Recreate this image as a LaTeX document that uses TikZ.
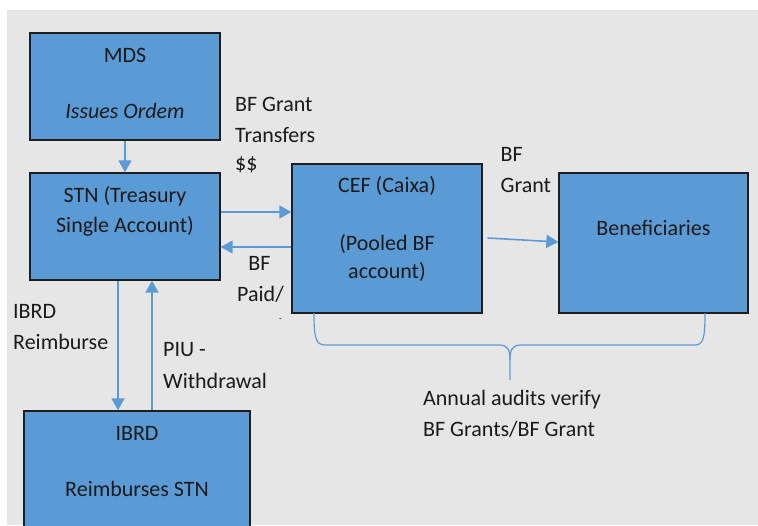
\documentclass[tikz,border=0pt]{standalone}
\usepackage{fontspec}
\setmainfont{Carlito}
\usetikzlibrary{arrows.meta}
\definecolor{bg}{HTML}{E6E6E6}
\definecolor{boxblue}{HTML}{5B9BD5}
\definecolor{arrowblue}{HTML}{5B9BD5}
\definecolor{edge}{HTML}{1E1E1E}
\definecolor{ink}{HTML}{1A1A1A}
\tikzset{
  box/.style={draw=edge, line width=1.3pt, fill=boxblue, inner sep=0pt},
  txt/.style={inner sep=0pt, text=ink, font=\fontsize{22}{29}\selectfont},
  flow/.style={draw=arrowblue, line width=1.6pt, -{Triangle[length=12pt,width=13pt]}},
  bracepath/.style={draw=arrowblue, line width=1.2pt},
}
\begin{document}
\begin{tikzpicture}[x=1pt,y=-1pt]
\clip (0,0) rectangle (758,525);
\fill[white] (0,0) rectangle (758,525);
\fill[bg] (7,10) rectangle (758,525);

% boxes
\node[box, minimum width=190pt, minimum height=107pt] (mds) at (125,86.5) {};
\node[box, minimum width=190pt, minimum height=107pt] (stn) at (125,226.5) {};
\node[box, minimum width=190pt, minimum height=149pt] (cef) at (387,238.5) {};
\node[box, minimum width=189pt, minimum height=140pt] (ben) at (653.5,243) {};
\node[box, minimum width=226pt, minimum height=129pt] (ibrd) at (137,475.5) {};

% box texts
\node[txt, anchor=base] (t1) at (125,62) {MDS};
\node[txt, anchor=base] (t2) at (125,118) {\itshape Issues Ordem};
\node[txt, anchor=base] (t3) at (125,202.5) {STN (Treasury};
\node[txt, anchor=base] (t4) at (125,232) {Single Account)};
\node[txt, anchor=base] (t5) at (387,192.5) {CEF (Caixa)};
\node[txt, anchor=base] (t6) at (387,250) {(Pooled BF};
\node[txt, anchor=base] (t7) at (387,278.5) {account)};
\node[txt, anchor=base] (t8) at (653.5,235.5) {Beneficiaries};
\node[txt, anchor=base] (t9) at (137,440) {IBRD};
\node[txt, anchor=base] (t10) at (137,496) {Reimburses STN};

% labels
\node[txt, anchor=base west] (l1) at (235,111.5) {BF Grant};
\node[txt, anchor=base west] (l2) at (235,142.5) {Transfers};
\node[txt, anchor=base west] (l3) at (235,170.5) {\$\$};
\node[txt, anchor=base west] (l4) at (500.5,161.5) {BF};
\node[txt, anchor=base west] (l5) at (500.5,192.5) {Grant};
\node[txt, anchor=base] (l6) at (259.5,270) {BF};
\node[txt, anchor=base] (l7) at (260.5,301.5) {Paid/};
\node[txt, anchor=center, font=\fontsize{9}{10}\selectfont] (l8) at (280.5,320) {-};
\node[txt, anchor=base west] (l9) at (13,318) {IBRD};
\node[txt, anchor=base west] (l10) at (13,349) {Reimburse};
\node[txt, anchor=base west] (l11) at (163,356.5) {PIU -};
\node[txt, anchor=base west] (l12) at (163,388) {Withdrawal};
\node[txt, anchor=base west] (l13) at (423,405) {Annual audits verify};
\node[txt, anchor=base west] (l14) at (423,436.5) {BF Grants/BF Grant};

% connectors
\draw[flow] (mds.south) -- (stn.north);
\draw[flow] ([yshift=14.5pt]stn.east) -- ([yshift=26.5pt]cef.west);
\draw[flow] ([yshift=-8.5pt]cef.west) -- ([yshift=-20.5pt]stn.east);
\draw[flow] ([xshift=5pt,yshift=0.5pt]cef.east) -- ([yshift=1pt]ben.west);
\draw[flow] ([xshift=-7pt]stn.south) -- ([xshift=-19pt]ibrd.north);
\draw[flow] ([xshift=15pt]ibrd.north) -- ([xshift=27pt]stn.south);

% brace
\draw[bracepath] (314,313) .. controls (314,340) and (316,345) .. (326,345)
  -- (499,345) .. controls (508,345) and (510,350) .. (510,360) -- (510,380);
\draw[bracepath] (705,313) .. controls (705,340) and (703,345) .. (694,345)
  -- (521,345) .. controls (512,345) and (510,350) .. (510,360);
\end{tikzpicture}
\end{document}
